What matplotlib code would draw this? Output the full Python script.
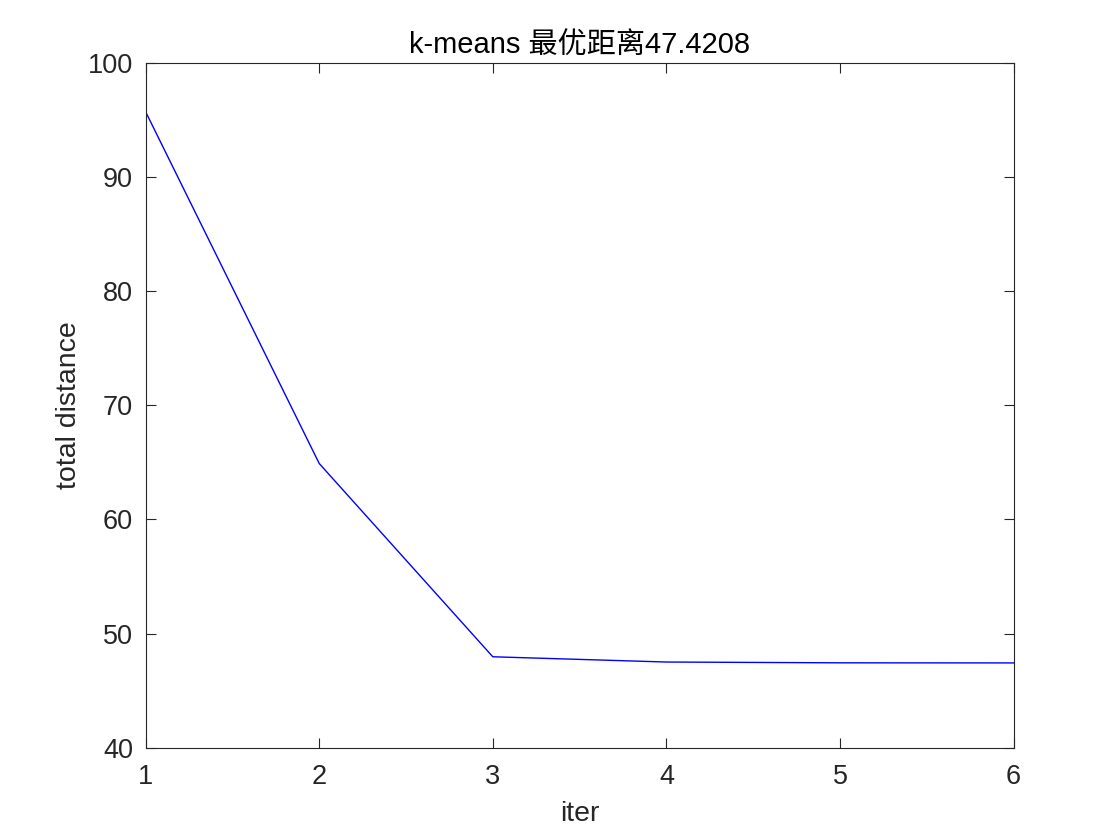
import matplotlib
matplotlib.use("Agg")
import matplotlib.pyplot as plt

iters = [1, 2, 3, 4, 5, 6]
total_distance = [95.73, 64.9, 47.96, 47.5, 47.43, 47.4208]
xticks = [1, 2, 3, 4, 5, 6]
yticks = [40, 50, 60, 70, 80, 90, 100]

plt.rcParams['font.family'] = ['Liberation Sans', 'Noto Sans CJK SC', 'DejaVu Sans']
fig = plt.figure(figsize=(11.2, 8.4), dpi=100)
ax = fig.add_axes([0.13, 0.11, 0.775, 0.815])
ax.plot(iters, total_distance, color='#0000ff', linewidth=1.0)
ax.set_xlim(1, 6)
ax.set_ylim(40, 100)
ax.set_xticks(xticks)
ax.set_yticks(yticks)
tc = '#262626'
ax.tick_params(direction='in', top=True, right=True, length=7, width=0.8,
               labelsize=19.5, colors=tc)
ax.tick_params(axis='x', pad=12)
ax.tick_params(axis='y', pad=9)
for s in ax.spines.values():
    s.set_color(tc)
    s.set_linewidth(0.8)
ax.set_xlabel('iter', fontsize=20.5, color=tc, labelpad=8)
ax.set_ylabel('total distance', fontsize=20.5, color=tc, labelpad=4)
ax.set_title('k-means 最优距离47.4208', fontsize=21, color='black', pad=7,
             family=['Liberation Sans', 'Noto Sans CJK SC'])
fig.savefig('out.png', dpi=100)
